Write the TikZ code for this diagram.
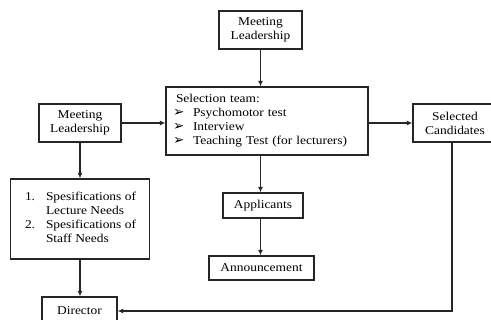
\documentclass[tikz,border=0pt]{standalone}
\usepackage{fontspec}
\setmainfont{Liberation Serif}[FakeStretch=1.12]
\newfontfamily\dejavu{DejaVu Sans}
\usetikzlibrary{arrows.meta}
\newcommand{\mybul}{\smash{\dejavu\fontsize{13.5}{14}\selectfont ➢}}
\begin{document}
\begin{tikzpicture}[x=1pt,y=-1pt,
  box/.style={draw=black!85,line width=1.2pt,inner sep=0pt,align=center,
    font=\fontsize{12}{14}\selectfont},
  arr/.style={draw=black!85,line width=1.2pt,-{Latex[length=5.5pt,width=5pt]}}]
\useasboundingbox (0,0) rectangle (491,320);
\begin{scope}
\clip (0,0) rectangle (491,320);
\node[box,minimum width=83pt,minimum height=38pt] (mltop) at (260.5,30) {Meeting\\Leadership};
\node[box,minimum width=202pt,minimum height=68pt,text width=188pt,inner xsep=7pt,align=left] (sel) at (267,121)
  {\begin{tabular}{@{}p{20pt}@{}l@{}}
   \multicolumn{2}{@{\hspace{3pt}}l}{Selection team:}\\
   \mybul & Psychomotor test\\
   \mybul & Interview\\
   \mybul & Teaching Test (for lecturers)
  \end{tabular}};
\node[box,minimum width=82pt,minimum height=38pt] (mlleft) at (80,123) {Meeting\\Leadership};
\node[box,minimum width=84pt,minimum height=38pt] (selc) at (455,123) {Selected\\Candidates};
\node[box,minimum width=139pt,minimum height=80pt] (spec) at (80,219)
  {\begin{tabular}{@{}p{22pt}@{}l@{}}
   \hspace{1pt}1. & Spesifications of\\
   & Lecture Needs\\
   \hspace{1pt}2. & Spesifications of\\
   & Staff Needs
  \end{tabular}};
\node[box,minimum width=80pt,minimum height=25pt] (app) at (263,205.5) {Applicants};
\node[box,minimum width=105pt,minimum height=24pt] (ann) at (261.5,268) {Announcement};
\node[box,minimum width=75pt,minimum height=28pt] (dir) at (79.5,311) {Director};
\coordinate (selcb) at (452,0);
\draw[arr] (mltop.south) -- (mltop.south |- sel.north);
\draw[arr] (mlleft.east) -- (mlleft.east -| sel.west);
\draw[arr] (sel.east |- selc.west) -- (selc.west);
\draw[arr] (mlleft.south) -- (mlleft.south |- spec.north);
\draw[arr] (mltop.south |- sel.south) -- (mltop.south |- app.north);
\draw[arr] (mltop.south |- app.south) -- (mltop.south |- ann.north);
\draw[arr] (spec.south) -- (spec.south |- dir.north);
\draw[arr] (selc.south -| selcb) |- (dir.east);
\end{scope}
\end{tikzpicture}
\end{document}
